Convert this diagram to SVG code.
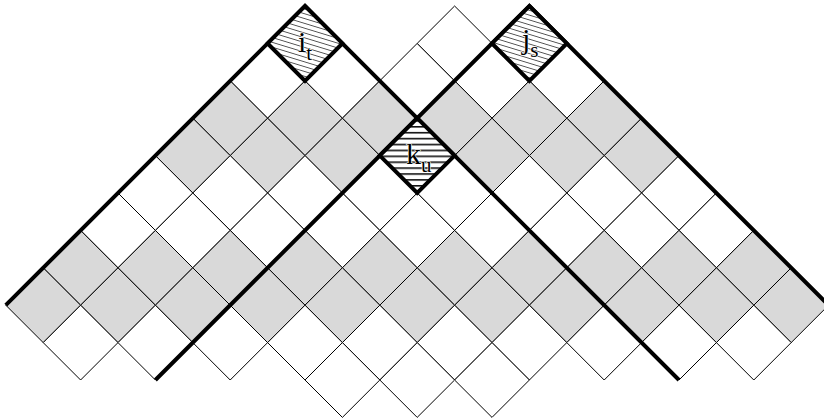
<svg xmlns="http://www.w3.org/2000/svg" xmlns:xlink="http://www.w3.org/1999/xlink" width="824" height="420" viewBox="0 0 824 420">
<style>
.w{fill:#fff;stroke:#000;stroke-width:1}
.g{fill:#d9d9d9;stroke:#000;stroke-width:1}
.thick{fill:none;stroke:#000;stroke-width:4;stroke-linejoin:miter;stroke-miterlimit:10}
.lb{font-family:"Liberation Serif","Times New Roman",serif;font-size:30px;fill:#000;stroke:#fff;stroke-width:1.2;paint-order:stroke;stroke-linejoin:round}
.sb{font-size:21px}
</style>
<defs>
<path id="c" d="M0,-37.4L37.4,0L0,37.4L-37.4,0Z"/>
<pattern id="h1" patternUnits="userSpaceOnUse" width="20" height="4.6" patternTransform="rotate(17)">
<rect width="20" height="4.6" fill="#fff"/>
<line x1="0" y1="2.3" x2="20" y2="2.3" stroke="#444" stroke-width="0.9"/>
</pattern>
<pattern id="h2" patternUnits="userSpaceOnUse" width="20" height="5.9" y="126">
<rect width="20" height="5.9" fill="#fff"/>
<rect y="0" width="20" height="1.6" fill="#111"/>
</pattern>
</defs>
<g id="grid">
<use href="#c" x="267.6" y="80.8" class="w"/>
<use href="#c" x="230.2" y="118.2" class="g"/>
<use href="#c" x="192.8" y="155.6" class="g"/>
<use href="#c" x="155.4" y="193" class="w"/>
<use href="#c" x="118" y="230.4" class="w"/>
<use href="#c" x="80.6" y="267.8" class="g"/>
<use href="#c" x="43.2" y="305.2" class="g"/>
<use href="#c" x="342.4" y="80.8" class="w"/>
<use href="#c" x="305" y="118.2" class="g"/>
<use href="#c" x="267.6" y="155.6" class="g"/>
<use href="#c" x="230.2" y="193" class="w"/>
<use href="#c" x="192.8" y="230.4" class="w"/>
<use href="#c" x="155.4" y="267.8" class="g"/>
<use href="#c" x="118" y="305.2" class="g"/>
<use href="#c" x="80.6" y="342.6" class="w"/>
<use href="#c" x="379.8" y="118.2" class="g"/>
<use href="#c" x="342.4" y="155.6" class="g"/>
<use href="#c" x="305" y="193" class="w"/>
<use href="#c" x="267.6" y="230.4" class="w"/>
<use href="#c" x="230.2" y="267.8" class="g"/>
<use href="#c" x="192.8" y="305.2" class="g"/>
<use href="#c" x="155.4" y="342.6" class="w"/>
<use href="#c" x="417.2" y="80.8" class="w"/>
<use href="#c" x="454.6" y="43.4" class="w"/>
<use href="#c" x="379.8" y="193" class="w"/>
<use href="#c" x="454.6" y="193" class="w"/>
<use href="#c" x="342.4" y="230.4" class="w"/>
<use href="#c" x="417.2" y="230.4" class="w"/>
<use href="#c" x="492" y="230.4" class="w"/>
<use href="#c" x="305" y="267.8" class="g"/>
<use href="#c" x="379.8" y="267.8" class="g"/>
<use href="#c" x="454.6" y="267.8" class="g"/>
<use href="#c" x="529.4" y="267.8" class="g"/>
<use href="#c" x="267.6" y="305.2" class="g"/>
<use href="#c" x="342.4" y="305.2" class="g"/>
<use href="#c" x="417.2" y="305.2" class="g"/>
<use href="#c" x="492" y="305.2" class="g"/>
<use href="#c" x="566.8" y="305.2" class="g"/>
<use href="#c" x="230.2" y="342.6" class="w"/>
<use href="#c" x="305" y="342.6" class="w"/>
<use href="#c" x="379.8" y="342.6" class="w"/>
<use href="#c" x="454.6" y="342.6" class="w"/>
<use href="#c" x="529.4" y="342.6" class="w"/>
<use href="#c" x="604.2" y="342.6" class="w"/>
<use href="#c" x="342.4" y="380" class="w"/>
<use href="#c" x="417.2" y="380" class="w"/>
<use href="#c" x="492" y="380" class="w"/>
<use href="#c" x="566.8" y="80.8" class="w"/>
<use href="#c" x="604.2" y="118.2" class="g"/>
<use href="#c" x="641.6" y="155.6" class="g"/>
<use href="#c" x="679" y="193" class="w"/>
<use href="#c" x="716.4" y="230.4" class="w"/>
<use href="#c" x="753.8" y="267.8" class="g"/>
<use href="#c" x="791.2" y="305.2" class="g"/>
<use href="#c" x="492" y="80.8" class="w"/>
<use href="#c" x="529.4" y="118.2" class="g"/>
<use href="#c" x="566.8" y="155.6" class="g"/>
<use href="#c" x="604.2" y="193" class="w"/>
<use href="#c" x="641.6" y="230.4" class="w"/>
<use href="#c" x="679" y="267.8" class="g"/>
<use href="#c" x="716.4" y="305.2" class="g"/>
<use href="#c" x="753.8" y="342.6" class="w"/>
<use href="#c" x="454.6" y="118.2" class="g"/>
<use href="#c" x="492" y="155.6" class="g"/>
<use href="#c" x="529.4" y="193" class="w"/>
<use href="#c" x="566.8" y="230.4" class="w"/>
<use href="#c" x="604.2" y="267.8" class="g"/>
<use href="#c" x="641.6" y="305.2" class="g"/>
<use href="#c" x="679" y="342.6" class="w"/>
</g>
<g id="connectors">
<polyline class="thick" points="5.8,305.2 305,6 679,380"/>
<polyline class="thick" points="155.4,380 529.4,6 828.6,305.2"/>
</g>
<g id="i_t">
<polygon points="305,6 342.4,43.4 305,80.8 267.6,43.4" fill="url(#h1)" stroke="#000" stroke-width="4"/>
<text class="lb" x="298" y="52">i<tspan class="sb" dy="8">t</tspan></text>
</g>
<g id="j_s">
<polygon points="529.4,6 566.8,43.4 529.4,80.8 492,43.4" fill="url(#h1)" stroke="#000" stroke-width="4"/>
<text class="lb" x="522" y="49">j<tspan class="sb" dy="7.5">s</tspan></text>
</g>
<g id="k_u">
<polygon points="417.2,118.2 454.6,155.6 417.2,193 379.8,155.6" fill="url(#h2)" stroke="#000" stroke-width="4"/>
<text class="lb" x="406" y="164">k<tspan class="sb" dy="8">u</tspan></text>
</g>
</svg>
